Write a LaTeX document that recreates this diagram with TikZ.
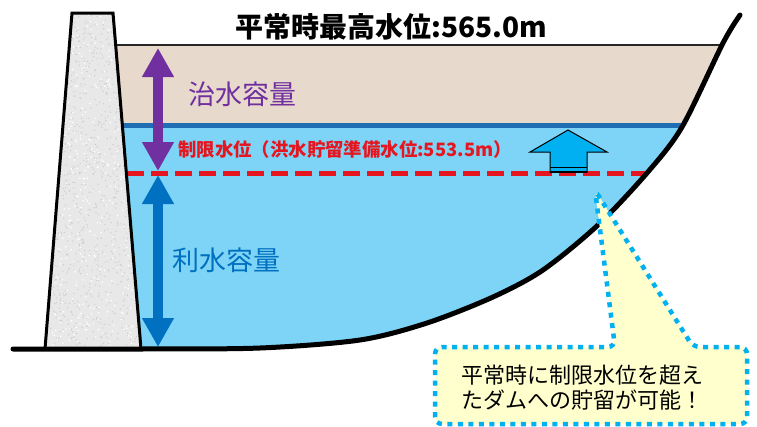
\documentclass[tikz,border=0pt]{standalone}
\usepackage{fontspec}
\newfontfamily\jp{Noto Sans CJK JP}
\usetikzlibrary{arrows.meta}
\definecolor{floodbeige}{RGB}{232,217,205}
\definecolor{waterblue}{RGB}{125,212,246}
\definecolor{levelblue}{RGB}{31,110,180}
\definecolor{floodpurple}{RGB}{112,48,160}
\definecolor{usageblue}{RGB}{0,112,192}
\definecolor{limitred}{RGB}{230,22,32}
\definecolor{skyblue}{RGB}{0,176,240}
\definecolor{notefill}{RGB}{255,255,206}
\definecolor{damgray}{RGB}{232,232,232}
\tikzset{
  capacityarrow/.style={line width=10pt,{Triangle[width=30pt,length=29pt]}-{Triangle[width=30pt,length=29pt]}},
  label/.style={font=\jp\fontsize{27}{30}\selectfont},
  bank/.style={line width=5pt,line cap=round,line join=round},
  notebox/.style={fill=notefill,draw=skyblue,line width=4.5pt,dash pattern=on 5pt off 5.5pt,rounded corners=7pt},
}
\begin{document}
\begin{tikzpicture}[x=1pt,y=-1pt]
\useasboundingbox (0,0) rectangle (757,426);

% reservoir water bodies
\begin{scope}
  \clip (113,13) -- (141,349) -- plot[smooth] coordinates {(141,349)(260,348)(360,340)(427,323)(493,297)(543,270)(598,225)(647,173)(682,127)(723,43)(740,15)} -- cycle;
  \fill[floodbeige] (100,45) rectangle (760,125);
  \fill[waterblue] (100,125) rectangle (760,360);
\end{scope}

% water levels
\coordinate (topL) at (116,45);
\coordinate (topR) at (722,45);
\coordinate (limL) at (119,125);
\coordinate (limR) at (683,125);
\coordinate (dashL) at (127,173);
\coordinate (dashR) at (647,173);
\draw[black!85,line width=1.5pt] (topL) -- (topR);
\draw[levelblue,line width=5pt] (limL) -- (limR);
\draw[limitred,line width=5pt,dash pattern=on 17pt off 7pt] (dashL) -- (dashR);

% capacity arrows
\coordinate (fcTop) at (158,48);
\coordinate (fcBot) at (158,171);
\coordinate (usTop) at (158,175);
\coordinate (usBot) at (158,347);
\draw[capacityarrow,floodpurple] (fcTop) -- (fcBot);
\draw[capacityarrow,usageblue] (usTop) -- (usBot);

\node[label,text=floodpurple] (flood) at (242,94) {治水容量};
\node[label,text=usageblue] (usage) at (226,260) {利水容量};
\node[font=\jp\bfseries\fontsize{18.4}{21}\selectfont,text=limitred] (limit) at (345,150) {制限水位（洪水貯留準備水位:553.5m）};

% upward arrow above the limit level
\draw[fill=skyblue,line width=1pt,line join=miter] (568,130) -- (607,152) -- (587,152) -- (587,172) -- (550,172) -- (550,152) -- (530,152) -- cycle;
\draw[line width=1.8pt] (550,167.5) -- (587,167.5);
\draw[line width=1.8pt] (550,172) -- (587,172);

% concrete dam body
\begin{scope}
  \clip (72,13) -- (113,13) -- (141,349) -- (45,349) -- cycle;
  \fill[damgray] (40,10) rectangle (145,352);
  \pgfmathsetseed{7}
  \foreach \i in {1,...,1100}{
    \pgfmathsetmacro\px{40+105*rnd}
    \pgfmathsetmacro\py{10+340*rnd}
    \fill[gray!40] (\px,\py) circle (0.7);
  }
  \foreach \i in {1,...,500}{
    \pgfmathsetmacro\px{40+105*rnd}
    \pgfmathsetmacro\py{10+340*rnd}
    \fill[white] (\px,\py) circle (0.9);
  }
\end{scope}
\draw[line width=3pt,line join=miter] (45,349) -- (72,13) -- (113,13) -- (141,349);

% ground and valley slope
\draw[bank] plot[smooth] coordinates {(13,349)(141,349)(260,348)(360,340)(427,323)(493,297)(543,270)(598,225)(647,173)(682,127)(723,43)(740,15)};

% callout
\draw[notebox] (435,424) -- (435,347) -- (615,347) -- (595,190) -- (693,347) -- (747,347) -- (747,424) -- cycle;
\node[anchor=west,align=left,font=\jp\fontsize{22}{25}\selectfont] (note) at (458,388) {平常時に制限水位を超え\\たダムへの貯留が可能！};

% title
\node[font=\jp\bfseries\fontsize{28}{30}\selectfont] (title) at (391,27) {平常時最高水位:565.0m};
\end{tikzpicture}
\end{document}
